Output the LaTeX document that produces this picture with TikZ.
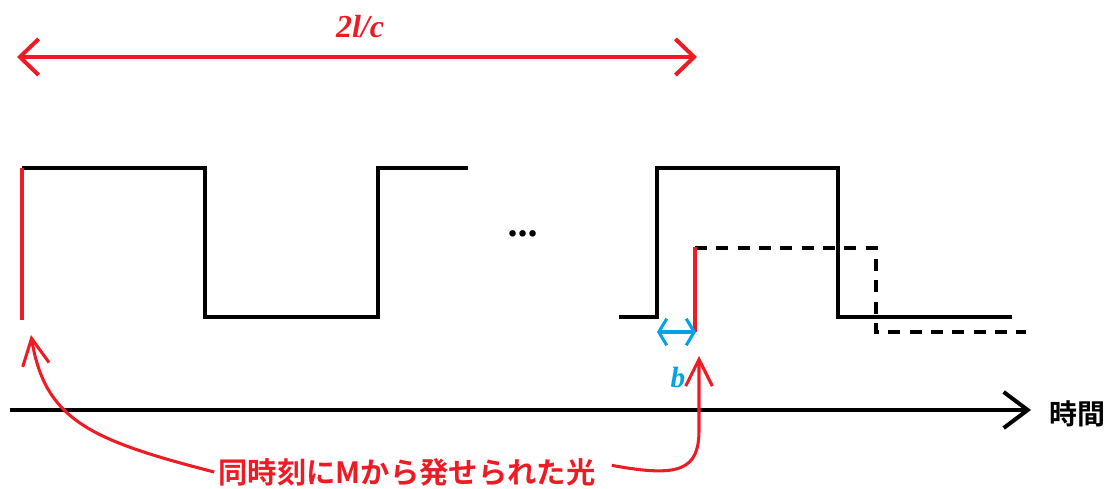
\documentclass[tikz,border=0pt]{standalone}
\usepackage{fontspec}
\newfontfamily\cjk{Noto Sans CJK JP}[BoldFont={Noto Sans CJK JP Bold}]
\newfontfamily\lserif{Liberation Serif}
\usetikzlibrary{arrows.meta}
\definecolor{pred}{RGB}{237,28,36}
\definecolor{pblue}{RGB}{0,162,232}
\tikzset{
  wave/.style={line width=3pt,black},
  dwave/.style={line width=3pt,black,dash pattern=on 9pt off 7pt},
  redline/.style={line width=2.3pt,pred},
  topdim/.style={line width=3pt,pred,{Straight Barb[length=14pt,width=27pt]}-{Straight Barb[length=14pt,width=27pt]}},
  axis/.style={line width=3pt,black,-{Straight Barb[length=18pt,width=27pt]}},
  bdim/.style={line width=2.3pt,pblue,{Straight Barb[length=6pt,width=20pt]}-{Straight Barb[length=6pt,width=20pt]}},
  pointer/.style={line width=2.3pt,pred,-{Straight Barb[length=20pt,width=20pt]}},
  mathlbl/.style={font=\lserif\bfseries\itshape\fontsize{24}{28}\selectfont,inner sep=0pt},
  jplbl/.style={font=\cjk\bfseries\fontsize{22}{26}\selectfont,inner sep=0pt}
}
\begin{document}
\begin{tikzpicture}[x=0.75pt,y=-0.75pt]
\useasboundingbox (0,0) rectangle (1114,489);
% coordinates
\coordinate (dimL) at (17,57);
\coordinate (dimR) at (697,57);
\coordinate (axL) at (10,410);
\coordinate (axR) at (1031,410);
\coordinate (tipL) at (31,335);
\coordinate (tipR) at (699,356);
% top dimension
\draw[topdim] (dimL) -- (dimR);
\node[mathlbl,text=pred] (lc) at (360,27) {2l/c};
% first waveform
\draw[wave] (22,168) -- (205,168) -- (205,317) -- (378,317) -- (378,168) -- (468,168);
\draw[redline] (22,168) -- (22,320);
% dots
\node[mathlbl,font=\lserif\bfseries\itshape\fontsize{30}{34}\selectfont] (dots) at (524,234) {...};
% second waveform
\draw[wave] (619,317) -- (657,317) -- (657,168) -- (838,168) -- (838,317) -- (1012,317);
\draw[dwave] (695,248) -- (876,248) -- (876,332) -- (1026,332);
\draw[redline] (695,332) -- (695,247);
% b
\draw[bdim] (657,332) -- (696,332);
\node[mathlbl,text=pblue,font=\lserif\bfseries\itshape\fontsize{22}{26}\selectfont] (b) at (678,377) {b};
% axis
\draw[axis] (axL) -- (axR);
\node[jplbl,font=\cjk\bfseries\fontsize{21}{25}\selectfont,anchor=west] (time) at (1049,414) {時間};
% label and pointers
\node[jplbl,text=pred] (lbl) at (407,472) {同時刻にMから発せられた光};
\draw[pointer] ([xshift=-3pt]lbl.west) .. controls (90,440) and (45,420) .. (tipL);
\draw[pointer] ([xshift=12pt,yshift=5pt]lbl.east) .. controls (680,478) and (699,470) .. (699,430) -- (tipR);
\end{tikzpicture}
\end{document}
